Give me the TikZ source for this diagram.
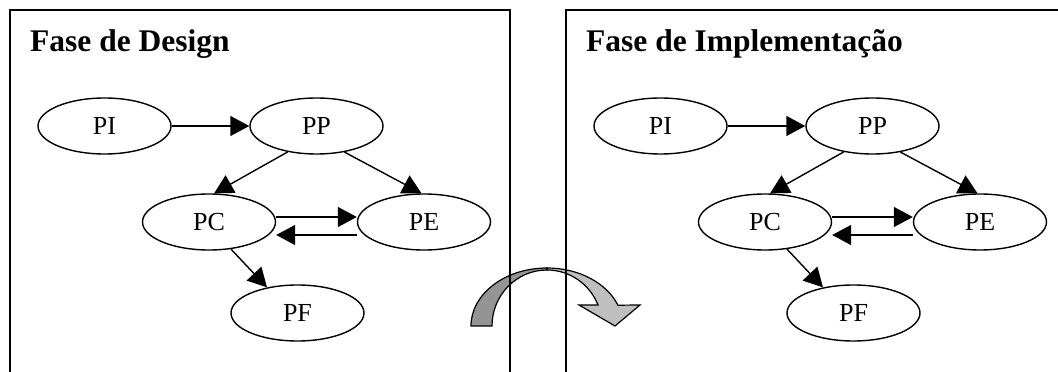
\documentclass[tikz,border=0pt]{standalone}
\usepackage{fontspec}
\setmainfont{Liberation Serif}
\usetikzlibrary{shapes.geometric,arrows.meta}

\begin{document}
\begin{tikzpicture}[x=1pt,y=1pt,
  fase/.style={ellipse,draw,line width=1.4pt,minimum width=133pt,minimum height=56pt,inner sep=0pt,font=\fontsize{26}{30}\selectfont},
  seta/.style={line width=1.4pt,-{Triangle[length=19pt,width=20pt]}},
  titulo/.style={anchor=base west,inner sep=0pt,font=\bfseries\fontsize{31.5}{36}\selectfont}]
\useasboundingbox (0,0) rectangle (1058,372);
% seta curva entre as duas fases
\draw[line width=1.2pt,fill=black!42] (471,46) arc[start angle=180,end angle=90,x radius=76,y radius=58]
  -- (547,102) arc[start angle=90,end angle=180,x radius=55,y radius=56] -- cycle;
\draw[line width=1.2pt,fill=black!25] (547,104) arc[start angle=90,end angle=21,x radius=76,y radius=58]
  -- (640,67) -- (615,46) -- (579,67) -- (598,67) arc[start angle=22,end angle=90,x radius=55,y radius=56] -- cycle;
% as duas fases
\foreach \dx/\fase in {0/Design,556/Implementação}{
\begin{scope}[xshift=\dx pt,name prefix=\dx-]
\draw[line width=1.2pt] (10,0)--(10,362)--(510,362)--(510,0);
\node[titulo] (T) at (30,320) {Fase de \fase};
\node[fase] (PI) at (104.5,246) {PI};
\node[fase] (PP) at (316.5,246) {PP};
\node[fase] (PC) at (209,150) {PC};
\node[fase] (PE) at (424,150) {PE};
\node[fase] (PF) at (297.5,59) {PF};
\draw[seta] (PI)--(PP);
\draw[seta] (PP.222)--(PC.80);
\draw[seta] (PP.317)--(PE.95);
\draw[seta] ([yshift=5pt]PC.east)--([yshift=5pt]PE.west);
\draw[seta] ([yshift=-13pt]PE.west)--([yshift=-13pt]PC.east);
\draw[seta] (PC.309)--(PF.140);
\end{scope}}
\end{tikzpicture}
\end{document}
